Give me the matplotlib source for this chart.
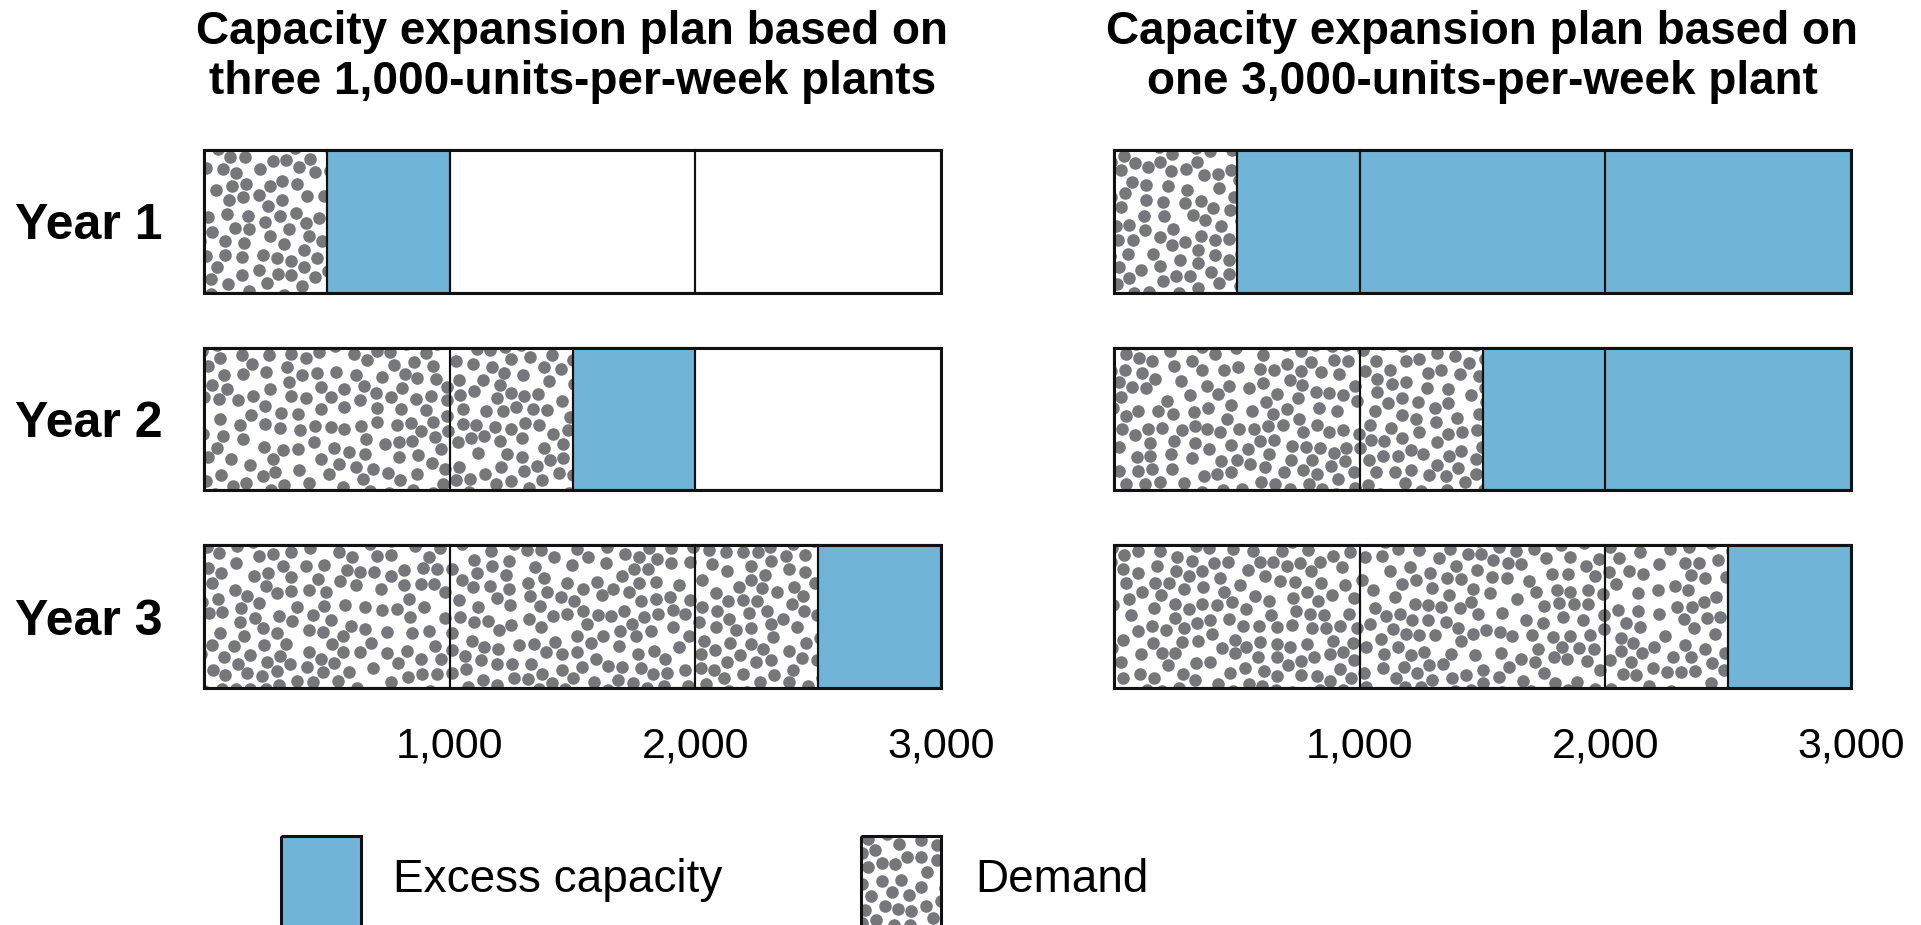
import matplotlib
matplotlib.use("Agg")
import matplotlib.pyplot as plt
from matplotlib.patches import Rectangle
import numpy as np

plt.rcParams["font.family"] = ["Liberation Sans", "DejaVu Sans"]

# weekly units per year
years = ["Year 1", "Year 2", "Year 3"]
demand = [500, 1500, 2500]
capacity_three_plants = [1000, 2000, 3000]
capacity_one_plant = [3000, 3000, 3000]
plant_blocks = [1000, 2000, 3000]
tick_values = [1000, 2000, 3000]
tick_labels = ["1,000", "2,000", "3,000"]
titles = [
    "Capacity expansion plan based on\nthree 1,000-units-per-week plants",
    "Capacity expansion plan based on\none 3,000-units-per-week plant",
]
legend_labels = ["Excess capacity", "Demand"]

EXCESS = "#70b5d8"
DOT = "#76777a"
EDGE = "#111111"
W, H, DPI = 1921, 925, 100
BAR_H = 0.724
DOT_SIZE = 82


def dot_field(width, height, area_per_dot=280.0, min_gap=13.0, seed=7):
    # dart-throwing stipple in pixel space: irregular dots that rarely overlap
    rng = np.random.default_rng(seed)
    target = int(width * height / area_per_dot)
    cell = min_gap / np.sqrt(2)
    gw, gh = int(width / cell) + 1, int(height / cell) + 1
    grid = -np.ones((gh, gw), dtype=int)
    pts = []
    cand = rng.uniform(0, 1, size=(target * 25, 2)) * [width, height]
    for x, y in cand:
        if len(pts) >= target:
            break
        gx, gy = int(x / cell), int(y / cell)
        ok = True
        for j in range(max(gy - 2, 0), min(gy + 3, gh)):
            for i in range(max(gx - 2, 0), min(gx + 3, gw)):
                k = grid[j, i]
                if k >= 0:
                    px, py = pts[k]
                    if (px - x) ** 2 + (py - y) ** 2 < min_gap ** 2:
                        ok = False
                        break
            if not ok:
                break
        if ok:
            grid[gy, gx] = len(pts)
            pts.append((x, y))
    return np.array(pts)


FIELD = dot_field(W, H)


def stipple(ax, rect):
    (x0, y0), (x1, y1) = ax.transData.transform(
        [rect.get_xy(), (rect.get_x() + rect.get_width(), rect.get_y() + rect.get_height())]
    )
    xa, xb = sorted((x0, x1))
    ya, yb = sorted((y0, y1))
    m = 8
    sel = FIELD[(FIELD[:, 0] > xa - m) & (FIELD[:, 0] < xb + m)
                & (FIELD[:, 1] > ya - m) & (FIELD[:, 1] < yb + m)]
    pts = ax.transData.inverted().transform(sel)
    sc = ax.scatter(pts[:, 0], pts[:, 1], s=DOT_SIZE, color=DOT, linewidths=0, zorder=2)
    sc.set_clip_path(rect)


def outline(ax, x, y, w, h, lw, z):
    ax.add_patch(Rectangle((x, y), w, h, fill=False, edgecolor=EDGE, lw=lw,
                           zorder=z, clip_on=False))


def draw_row(ax, y, dem, cap):
    edges = sorted({0, dem, cap, *plant_blocks})
    y0 = y - BAR_H / 2
    for x0, x1 in zip(edges[:-1], edges[1:]):
        face = EXCESS if dem < x1 <= cap else "white"
        rect = Rectangle((x0, y0), x1 - x0, BAR_H, facecolor=face,
                         edgecolor="none", zorder=1)
        ax.add_patch(rect)
        if x1 <= dem:
            stipple(ax, rect)
        outline(ax, x0, y0, x1 - x0, BAR_H, 1.5, 3)
    outline(ax, 0, y0, plant_blocks[-1], BAR_H, 2.2, 4)


fig = plt.figure(figsize=(W / DPI, H / DPI), dpi=DPI)
bottom = 1 - 688 / H
height = 538 / H
axes = [
    fig.add_axes([204 / W, bottom, 737 / W, height]),
    fig.add_axes([1114 / W, bottom, 737 / W, height]),
]

for ax, title, caps in zip(axes, titles, [capacity_three_plants, capacity_one_plant]):
    ax.set_xlim(0, plant_blocks[-1])
    ax.set_ylim(len(years) - 1 + 0.362, -0.362)
    ax.set_autoscale_on(False)
    for i, (dem, cap) in enumerate(zip(demand, caps)):
        draw_row(ax, i, dem, cap)
    for s in ax.spines.values():
        s.set_visible(False)
    ax.set_xticks(tick_values, tick_labels, fontsize=31)
    ax.tick_params(axis="x", length=0, pad=28)
    ax.set_yticks([])
    ax.set_title(title, fontsize=33, fontweight="bold", pad=40, linespacing=1.2)

axes[0].set_yticks(range(len(years)), years, fontsize=36, fontweight="bold")
axes[0].tick_params(axis="y", length=0, pad=30)

# legend strip along the bottom edge, in pixel units
leg = fig.add_axes([0, 0, 1, 125 / H])
leg.set_xlim(0, W)
leg.set_ylim(H, H - 125)
leg.set_autoscale_on(False)
leg.axis("off")

box_excess = Rectangle((281, 836), 80, 200, facecolor=EXCESS, edgecolor="none", zorder=1)
leg.add_patch(box_excess)
leg.add_patch(Rectangle((281, 836), 80, 200, fill=False, edgecolor=EDGE, lw=2.2, zorder=3))
leg.text(393, 880, legend_labels[0], fontsize=33, va="center", ha="left")

box_demand = Rectangle((861, 836), 80, 200, facecolor="white", edgecolor="none", zorder=1)
leg.add_patch(box_demand)
stipple(leg, box_demand)
leg.add_patch(Rectangle((861, 836), 80, 200, fill=False, edgecolor=EDGE, lw=2.2, zorder=3))
leg.text(975, 880, legend_labels[1], fontsize=33, va="center", ha="left")

fig.savefig("out.png", dpi=DPI)
